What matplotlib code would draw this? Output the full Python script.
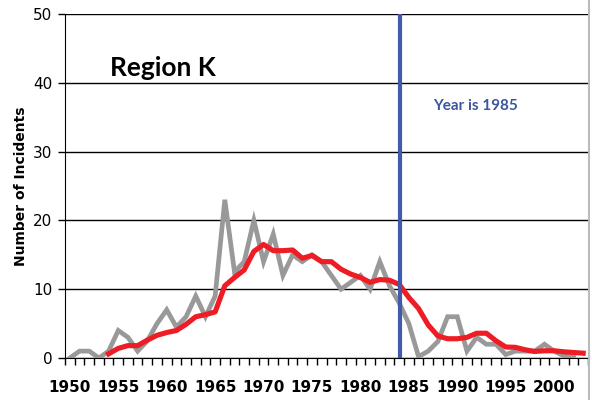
import numpy as np
import matplotlib.pyplot as plt
from matplotlib.ticker import MultipleLocator
from matplotlib.lines import Line2D

# yearly incidents, Region K (grey) and smoothed trend (red)
years = list(range(1950, 2003))
incidents = [0, 1, 1, 0, 1, 4, 3, 1, 2.5, 5,
             7, 4.5, 6, 9, 6, 9, 23, 12.5, 14, 20,
             14, 18, 12, 15, 14, 15, 14, 12, 10, 11,
             12, 10, 14, 10.5, 8, 5, 0.2, 1, 2.4, 6,
             6, 1, 3, 2, 2, 0.5, 1, 1, 1, 2,
             1, 0.3, 0.1]

trend_years = list(range(1954, 2004))
trend = [0.6, 1.4, 1.8, 1.8, 2.6, 3.3,
         3.7, 4.0, 4.9, 6.0, 6.3, 6.7, 10.5, 11.7, 12.8, 15.5,
         16.5, 15.6, 15.6, 15.7, 14.5, 14.9, 14.0, 14.0, 12.9, 12.2,
         11.7, 11.0, 11.4, 11.3, 10.7, 8.8, 7.2, 4.8, 3.2, 2.8,
         2.8, 3.0, 3.6, 3.6, 2.5, 1.6, 1.55, 1.2, 0.95, 1.05,
         1.05, 0.9, 0.8, 0.7]

marker_year = 1984.1
marker_text = 'Year is 1985'

fig = plt.figure(figsize=(5.92, 4.0), dpi=100)
ax = fig.add_axes([0.1098, 0.105, 0.8835, 0.86])

ax.plot(years, incidents, color='#999999', lw=3.4, solid_joinstyle='miter', zorder=3)
ax.plot(trend_years, trend, color='#EE1C24', lw=3.7, zorder=4)
ax.axvline(marker_year, color='#3F5BAA', lw=3.0, zorder=5)

ax.set_xlim(1949.5, 2003.5)
ax.set_ylim(0, 50)
ax.set_yticks([0, 10, 20, 30, 40, 50])
ax.set_xticks(range(1950, 2004, 5))
ax.xaxis.set_minor_locator(MultipleLocator(1, offset=0.5))
ax.tick_params(axis='x', which='major', length=0, pad=16)
ax.tick_params(axis='x', which='minor', length=5, width=1, direction='out', color='black')
ax.tick_params(axis='y', length=5, width=1, direction='out', labelsize=11, pad=4)
for lab in ax.get_xticklabels():
    lab.set_fontweight('bold')
    lab.set_fontsize(11)

ax.grid(axis='y', color='black', lw=1)
for s in ['top', 'right']:
    ax.spines[s].set_visible(False)
ax.spines['left'].set_color('black')
ax.spines['bottom'].set_color('black')

ax.set_ylabel('Number of Incidents', fontsize=10, fontweight='bold', labelpad=4)

ax.text(1954.15, 42.2, 'Region K', fontsize=19, fontweight='bold',
        family=['Lato', 'DejaVu Sans'], va='center', ha='left')
ax.text(1987.5, 36.6, marker_text, fontsize=11, fontweight='bold',
        color='#3A56A0', family=['Lato', 'DejaVu Sans'], va='center', ha='left')

# grey outer border on the right side
fig.add_artist(Line2D([589/592, 589/592], [0, 1], color='#BBBBBB', lw=1.5,
                      transform=fig.transFigure))

fig.savefig('out.png', dpi=100)
